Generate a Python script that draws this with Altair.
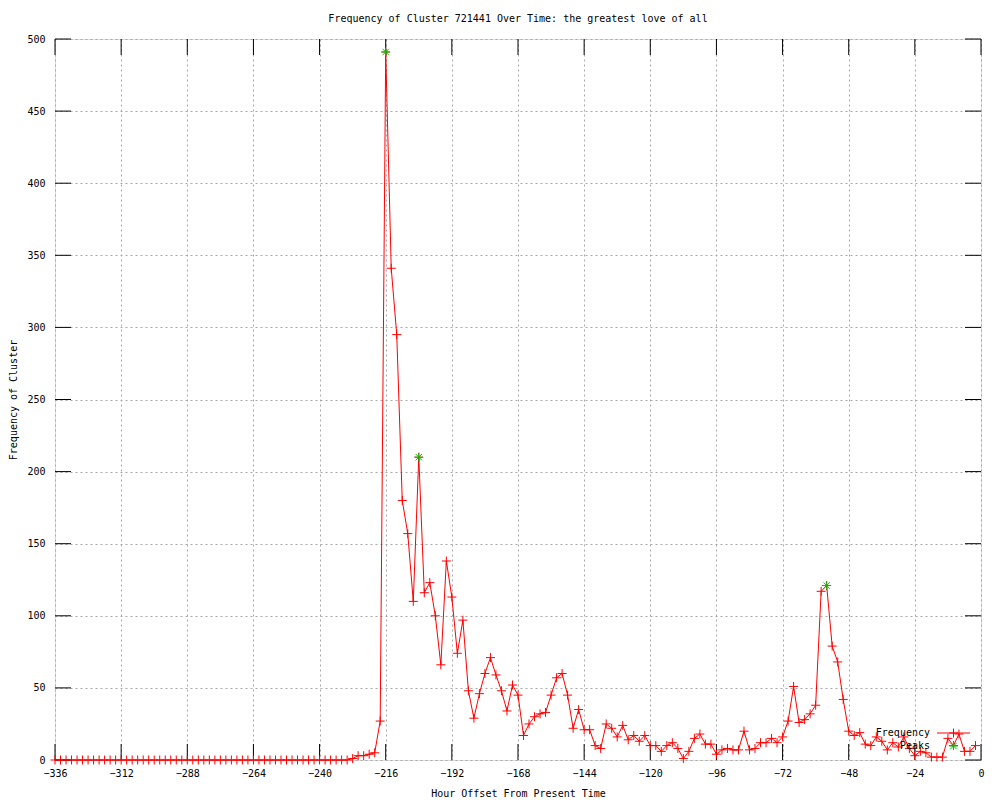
import altair as alt
import pandas as pd

# ---- data ----
hours = list(range(-336, 0, 2))
freq = [
    0, 0, 0, 0, 0, 0, 0, 0, 0, 0,
    0, 0, 0, 0, 0, 0, 0, 0, 0, 0,
    0, 0, 0, 0, 0, 0, 0, 0, 0, 0,
    0, 0, 0, 0, 0, 0, 0, 0, 0, 0,
    0, 0, 0, 0, 0, 0, 0, 0, 0, 0,
    0, 0, 0,
    0, 1, 3, 3, 4, 5, 27, 491, 341, 295,
    180, 157, 110, 210, 116, 123, 100, 66, 138, 113,
    74, 97, 48, 29, 46, 60, 71, 59, 48, 34,
    52, 45, 17, 25, 30, 32, 33, 45, 57, 60,
    45, 22, 35, 21, 21, 10, 8, 25, 22, 16,
    24, 14, 17, 13, 17, 10, 10, 6, 10, 12,
    8, 1, 6, 15, 18, 11, 11, 4, 7, 8,
    7, 7, 20, 7, 8, 12, 12, 15, 12, 16,
    27, 51, 26, 28, 32, 38, 117, 121, 79, 68,
    42, 20, 17, 19, 11, 10, 16, 13, 7, 12,
    9, 16, 8, 3, 6, 5, 2, 2, 2, 15,
    10, 18, 6, 6, 10,
]
peak_hours = [-216, -204, -56]
peak_values = [491, 210, 121]
x_ticks = [-336, -312, -288, -264, -240, -216, -192, -168, -144, -120, -96, -72, -48, -24, 0]
y_ticks = [0, 50, 100, 150, 200, 250, 300, 350, 400, 450, 500]
legend_labels = ["Frequency", "Peaks"]

# ---- style ----
FONT = "DejaVu Sans Mono"
W, H = 926, 721
TICK = 16
RED = "#ff0000"
GREEN = "#00c000"
PLUS = "M-1,0H1M0,-1V1"
STAR = "M-1,0H1M0,-1V1M-0.8,-0.8L0.8,0.8M-0.8,0.8L0.8,-0.8"

df = pd.DataFrame({"hour": hours, "freq": freq})
peaks = pd.DataFrame({"hour": peak_hours, "freq": peak_values})
xt = pd.DataFrame({"t": x_ticks})
yt = pd.DataFrame({"t": y_ticks})

xs = alt.Scale(domain=[-336, 0], nice=False, zero=False)
ys = alt.Scale(domain=[0, 500], nice=False)

x_axis = alt.Axis(
    values=x_ticks, title="Hour Offset From Present Time",
    labelFont=FONT, labelFontSize=10, labelColor="black", labelPadding=8,
    labelFlush=False, labelOverlap=False,
    ticks=False, tickSize=0, domain=False,
    grid=True, gridColor="#a8a8a8", gridDash=[2, 3], gridWidth=1,
    titleFont=FONT, titleFontSize=10, titleFontWeight="normal", titleColor="black",
    titleY=33, titleBaseline="middle",
)
y_axis = alt.Axis(
    values=y_ticks, title="Frequency of Cluster",
    labelFont=FONT, labelFontSize=10, labelColor="black", labelPadding=10,
    labelFlush=False, labelOverlap=False,
    ticks=False, tickSize=0, domain=False,
    grid=True, gridColor="#a8a8a8", gridDash=[2, 3], gridWidth=1,
    titleFont=FONT, titleFontSize=10, titleFontWeight="normal", titleColor="black",
    titleX=-42, titleY=H / 2, titleBaseline="middle", titleAngle=270,
)

line = alt.Chart(df).mark_line(color=RED, strokeWidth=1).encode(
    x=alt.X("hour:Q", scale=xs, axis=x_axis),
    y=alt.Y("freq:Q", scale=ys, axis=y_axis),
)
pts = alt.Chart(df).mark_point(shape=PLUS, size=81, color=RED, filled=False,
                               strokeWidth=1, opacity=1).encode(
    x=alt.X("hour:Q", scale=xs), y=alt.Y("freq:Q", scale=ys))
peak_pts = alt.Chart(peaks).mark_point(shape=STAR, size=64, color=GREEN, filled=False,
                                       strokeWidth=1, opacity=1).encode(
    x=alt.X("hour:Q", scale=xs), y=alt.Y("freq:Q", scale=ys))

tick_bottom = alt.Chart(xt).mark_rule(color="black", strokeWidth=1).encode(
    x=alt.X("t:Q", scale=xs), y=alt.value(H), y2=alt.value(H - TICK))
tick_top = alt.Chart(xt).mark_rule(color="black", strokeWidth=1).encode(
    x=alt.X("t:Q", scale=xs), y=alt.value(0), y2=alt.value(TICK))
tick_left = alt.Chart(yt).mark_rule(color="black", strokeWidth=1).encode(
    y=alt.Y("t:Q", scale=ys), x=alt.value(0), x2=alt.value(TICK))
tick_right = alt.Chart(yt).mark_rule(color="black", strokeWidth=1).encode(
    y=alt.Y("t:Q", scale=ys), x=alt.value(W), x2=alt.value(W - TICK))

# ---- legend (gnuplot style: text right-aligned, sample to the right) ----
LX_TEXT, LY1, LY2 = 875, 694, 707
LS0, LS1 = 882, 915
LSC = (LS0 + LS1) / 2
leg_text1 = alt.Chart(pd.DataFrame({"label": [legend_labels[0]]})).mark_text(
    align="right", baseline="middle", font=FONT, fontSize=10, color="black").encode(
    text="label:N", x=alt.value(LX_TEXT), y=alt.value(LY1))
leg_text2 = alt.Chart(pd.DataFrame({"label": [legend_labels[1]]})).mark_text(
    align="right", baseline="middle", font=FONT, fontSize=10, color="black").encode(
    text="label:N", x=alt.value(LX_TEXT), y=alt.value(LY2))
leg_line = alt.Chart(pd.DataFrame({"label": [legend_labels[0]]})).mark_rule(
    color=RED, strokeWidth=1).encode(x=alt.value(LS0), x2=alt.value(LS1), y=alt.value(LY1))
leg_plus = alt.Chart(pd.DataFrame({"label": [legend_labels[0]]})).mark_point(
    shape=PLUS, size=81, color=RED, filled=False, strokeWidth=1, opacity=1).encode(
    x=alt.value(LSC), y=alt.value(LY1))
leg_star = alt.Chart(pd.DataFrame({"label": [legend_labels[1]]})).mark_point(
    shape=STAR, size=64, color=GREEN, filled=False, strokeWidth=1, opacity=1).encode(
    x=alt.value(LSC), y=alt.value(LY2))

chart = alt.layer(
    line, tick_bottom, tick_top, tick_left, tick_right, pts, peak_pts,
    leg_line, leg_plus, leg_star, leg_text1, leg_text2,
).properties(
    width=W, height=H,
    title=alt.TitleParams(
        "Frequency of Cluster 721441 Over Time: the greatest love of all",
        font=FONT, fontSize=10, fontWeight="normal", color="black",
        anchor="middle", frame="group", baseline="bottom", offset=0),
    autosize=alt.AutoSizeParams(type="none"),
    padding={"left": 47, "top": 31, "right": 11, "bottom": 40},
).configure_view(stroke="black", strokeWidth=1).configure(background="white")

chart.save("out.html", embed_options={"renderer": "svg", "actions": False})
